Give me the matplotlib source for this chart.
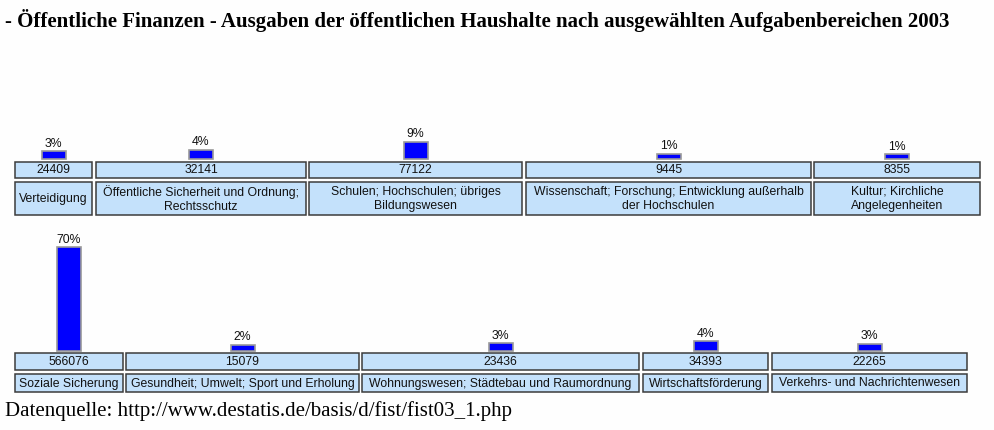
"""Öffentliche Finanzen 2003 - Ausgaben nach Aufgabenbereichen (table-style bar chart)."""

import matplotlib.pyplot as plt
from matplotlib.patches import Rectangle

# data (Mio. EUR), two rows as in the original page
row1_labels = [
    "Verteidigung",
    "Öffentliche Sicherheit und Ordnung;\nRechtsschutz",
    "Schulen; Hochschulen; übriges\nBildungswesen",
    "Wissenschaft; Forschung; Entwicklung außerhalb\nder Hochschulen",
    "Kultur; Kirchliche\nAngelegenheiten",
]
row1_values = [24409, 32141, 77122, 9445, 8355]

row2_labels = [
    "Soziale Sicherung",
    "Gesundheit; Umwelt; Sport und Erholung",
    "Wohnungswesen; Städtebau und Raumordnung",
    "Wirtschaftsförderung",
    "Verkehrs- und Nachrichtenwesen",
]
row2_values = [566076, 15079, 23436, 34393, 22265]

title = ("- Öffentliche Finanzen - Ausgaben der öffentlichen Haushalte "
         "nach ausgewählten Aufgabenbereichen 2003")
source = "Datenquelle: http://www.destatis.de/basis/d/fist/fist03_1.php"

# layout in pixels (cell left/right edges, vertical positions)
row1_cells = [(15, 92), (96, 306), (309, 522), (526, 811), (814, 980)]
row2_cells = [(15, 123), (126, 359), (362, 639), (643, 768), (772, 967)]
row1_y = dict(bar_base=158.5, val_top=161.5, val_bot=178, lab_top=182, lab_bot=215)
row2_y = dict(bar_base=350.5, val_top=353, val_bot=370, lab_top=374, lab_bot=392)

PX_PER_SHARE = 144.0
BAR_W = 24
CELL_FILL = "#c4e1fb"
CELL_EDGE = "#3c3c3c"
BAR_BLUE = "#0000ff"
CELL_FONT = "Liberation Sans"
CELL_SIZE = 8.8

total = sum(row1_values) + sum(row2_values)

fig = plt.figure(figsize=(9.94, 4.30), dpi=100)
fig.patch.set_facecolor("#fefefe")
ax = fig.add_axes([0, 0, 1, 1])
ax.set_xlim(0, 994)
ax.set_ylim(430, 0)
ax.axis("off")


def draw_row(labels, values, cells, ys):
    centers = [(a + b) / 2 for a, b in cells]
    shares = [v / total for v in values]
    heights = [s * PX_PER_SHARE + 3 for s in shares]
    ax.bar(centers, [-h for h in heights], bottom=ys["bar_base"], width=BAR_W,
           color=BAR_BLUE, edgecolor="#9a9a9a", linewidth=1.2)
    for c, h, s in zip(centers, heights, shares):
        ax.text(c, ys["bar_base"] - h - 1.5, f"{round(s * 100)}%", ha="center",
                va="bottom", fontsize=CELL_SIZE, family=CELL_FONT, color="#111111")
    for (a, b), c, v, lab in zip(cells, centers, values, labels):
        ax.add_patch(Rectangle((a, ys["val_top"]), b - a, ys["val_bot"] - ys["val_top"],
                               facecolor=CELL_FILL, edgecolor=CELL_EDGE, linewidth=1.1))
        ax.text(c, (ys["val_top"] + ys["val_bot"]) / 2 + 0.5, str(v), ha="center",
                va="center", fontsize=CELL_SIZE, family=CELL_FONT, color="#111111")
        ax.add_patch(Rectangle((a, ys["lab_top"]), b - a, ys["lab_bot"] - ys["lab_top"],
                               facecolor=CELL_FILL, edgecolor=CELL_EDGE, linewidth=1.1))
        ax.text(c, (ys["lab_top"] + ys["lab_bot"]) / 2 + 0.5, lab, ha="center",
                va="center", fontsize=CELL_SIZE, family=CELL_FONT, color="#111111",
                linespacing=1.32)


draw_row(row1_labels, row1_values, row1_cells, row1_y)
draw_row(row2_labels, row2_values, row2_cells, row2_y)

ax.text(5, 20, title, ha="left", va="center", fontsize=15, fontweight="bold",
        family="Liberation Serif", color="black")
ax.text(5, 411, source, ha="left", va="center", fontsize=15.0,
        family="Liberation Serif", color="black")

fig.savefig("out.png", dpi=100, facecolor=fig.get_facecolor())
